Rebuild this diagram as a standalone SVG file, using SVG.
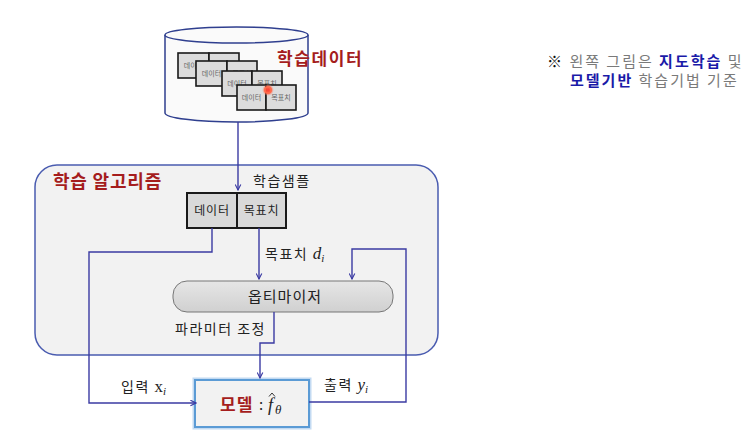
<svg xmlns="http://www.w3.org/2000/svg" width="750" height="443" viewBox="0 0 750 443">
<style>
.k{font-family:"Noto Sans CJK KR","Noto Sans",sans-serif;}
.m{font-family:"Liberation Serif",serif;font-style:italic;}
.red{fill:#a51d1d;font-weight:bold;}
.blue{fill:#1a1aa8;font-weight:bold;}
.gray{fill:#7a7a7a;}
.conn{fill:none;stroke:#3b3ba3;stroke-width:1.4;}
.card{fill:#dcdcdc;stroke:#1a1a1a;stroke-width:1.6;}
.ct{font-size:7px;fill:#666;text-anchor:middle;}
.box{fill:#d9d9d9;stroke:#1a1a1a;stroke-width:2;}
.lb{font-size:14px;letter-spacing:1.5px;}
</style>
<defs>
<marker id="ah" viewBox="0 0 10 10" refX="9" refY="5" markerWidth="7" markerHeight="7" orient="auto-start-reverse" markerUnits="userSpaceOnUse">
<path d="M1,1 L9,5 L1,9" fill="none" stroke="#3b3ba3" stroke-width="1.6"/>
</marker>
<linearGradient id="og" x1="0" y1="0" x2="0" y2="1">
<stop offset="0" stop-color="#e6e6e6"/>
<stop offset="1" stop-color="#d0d0d0"/>
</linearGradient>
<radialGradient id="dot">
<stop offset="0" stop-color="#ff3b2f"/>
<stop offset="0.55" stop-color="#ff5a40" stop-opacity="0.9"/>
<stop offset="1" stop-color="#ff9a80" stop-opacity="0"/>
</radialGradient>
</defs>
<rect width="750" height="443" fill="#ffffff"/>

<g id="note" class="k" font-size="15" letter-spacing="2">
<text x="547" y="67"><tspan fill="#111">※</tspan><tspan class="gray"> 왼쪽 그림은 </tspan><tspan class="blue">지도학습</tspan><tspan class="gray"> 및</tspan></text>
<text x="570" y="86"><tspan class="blue">모델기반</tspan><tspan class="gray"> 학습기법 기준</tspan></text>
</g>

<g id="algorithm">
<rect x="35" y="165" width="403" height="190" rx="22" fill="#f2f2f2" stroke="#4a5cb0" stroke-width="1.5"/>
<text x="53" y="188" class="k red" font-size="18" letter-spacing="0.8">학습 알고리즘</text>
</g>

<g id="dataset">
<path d="M165,35 L165,113 A71.5,9 0 0 0 308,113 L308,35" fill="#fafafa" stroke="#2f3f8f" stroke-width="1.5"/>
<ellipse cx="236.5" cy="35" rx="71.5" ry="8" fill="#fafafa" stroke="#2f3f8f" stroke-width="1.5"/>
<g class="k">
<rect class="card" x="178" y="53" width="31" height="25"/><rect class="card" x="209" y="53" width="30" height="25"/>
<text class="ct" x="193.5" y="68">데이터</text><text class="ct" x="224" y="68">목표치</text>
<rect class="card" x="196" y="61" width="31" height="25"/><rect class="card" x="227" y="61" width="30" height="25"/>
<text class="ct" x="211.5" y="76">데이터</text><text class="ct" x="242" y="76">목표치</text>
<rect class="card" x="222" y="71" width="30" height="25"/><rect class="card" x="252" y="71" width="30" height="25"/>
<text class="ct" x="237" y="86">데이터</text><text class="ct" x="267" y="86">목표치</text>
<rect class="card" x="237" y="85" width="29" height="25"/><rect class="card" x="266" y="85" width="30" height="25"/>
<text class="ct" x="251.5" y="100">데이터</text><text class="ct" x="281" y="100">목표치</text>
</g>
<circle cx="268" cy="90" r="6" fill="url(#dot)"/>
<circle cx="268" cy="90" r="3" fill="none" stroke="#ff6b4a" stroke-width="1.5"/>
<text x="277" y="65" class="k red" font-size="17" letter-spacing="1.6">학습데이터</text>
</g>

<g id="sample">
<text x="253" y="186" class="k" font-size="14" letter-spacing="1.5" fill="#222">학습샘플</text>
<rect class="box" x="187" y="193" width="50" height="35"/>
<rect class="box" x="237" y="193" width="49" height="35"/>
<text x="212" y="215" class="k" font-size="12" letter-spacing="0.8" fill="#222" text-anchor="middle">데이터</text>
<text x="261.5" y="215" class="k" font-size="12" letter-spacing="0.8" fill="#222" text-anchor="middle">목표치</text>
</g>

<g id="optimizer">
<rect x="173" y="281" width="220" height="31" rx="14" fill="url(#og)" stroke="#777" stroke-width="1"/>
<text x="248" y="302" class="k" font-size="15" letter-spacing="1" fill="#222">옵티마이저</text>
</g>

<g id="model">
<rect x="195" y="380" width="114" height="47" fill="#f2f2f2" stroke="#9cc3ea" stroke-width="5" opacity="0.6"/>
<rect x="195" y="380" width="114" height="47" fill="#f2f2f2" stroke="#5b9bd5" stroke-width="2"/>
<text x="220" y="411" class="k red" font-size="17" letter-spacing="1">모델</text>
<text x="259" y="410" class="k" font-size="15" fill="#222">:</text>
<text x="268" y="411" class="m" font-size="18" fill="#222">f</text>
<path d="M269,396.5 L272,393 L275,396.5" fill="none" stroke="#222" stroke-width="0.9"/>
<text x="275" y="414" class="m" font-size="13" fill="#222">θ</text>
</g>

<g id="connectors">
<path class="conn" d="M238,122 L238,190" marker-end="url(#ah)"/>
<path class="conn" d="M212,228 L212,252 L89,252 L89,403 L196,403" marker-end="url(#ah)"/>
<path class="conn" d="M259,228 L259,279" marker-end="url(#ah)"/>
<path class="conn" d="M309,402 L406,402 L406,249 L352,249 L352,279" marker-end="url(#ah)"/>
<path class="conn" d="M274,312 L274,343 L260,343 L260,378" marker-end="url(#ah)"/>
</g>

<g id="labels" fill="#222">
<text x="265" y="259" class="k lb">목표치 <tspan class="m" font-size="17" letter-spacing="0">d</tspan><tspan class="m" font-size="11" letter-spacing="0" dy="3">i</tspan></text>
<text x="175" y="334" class="k lb" letter-spacing="1.7">파라미터 조정</text>
<text x="121" y="392" class="k lb">입력 <tspan font-family="Liberation Serif,serif" font-size="17" letter-spacing="0">x</tspan><tspan class="m" font-size="11" letter-spacing="0" dy="3">i</tspan></text>
<text x="324" y="390" class="k lb">출력 <tspan class="m" font-size="17" letter-spacing="0">y</tspan><tspan class="m" font-size="11" letter-spacing="0" dy="3">i</tspan></text>
</g>
</svg>
